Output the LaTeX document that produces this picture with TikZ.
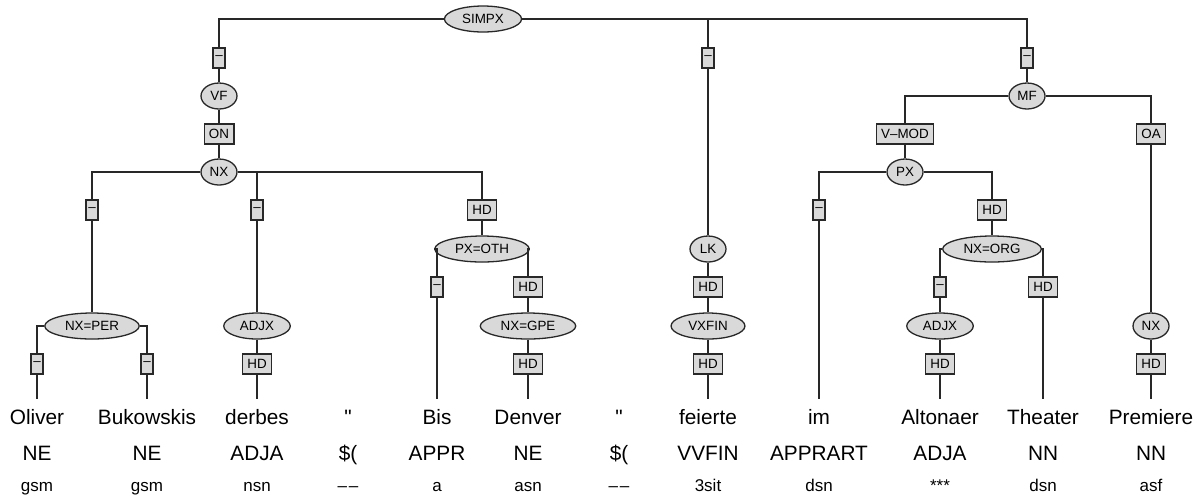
\documentclass[tikz,border=0pt]{standalone}
\usepackage{fontspec}
\setmainfont{Liberation Sans}
\usetikzlibrary{shapes.geometric}
\definecolor{nodegray}{RGB}{217,217,217}
\definecolor{linegray}{RGB}{40,40,40}

\begin{document}
\begin{tikzpicture}[x=0.5pt,y=-0.5pt,line width=0.65pt,draw=linegray,
    cat/.style={ellipse,draw,fill=nodegray,inner xsep=3.2pt,inner ysep=0pt,minimum height=13pt,font=\fontsize{6.7}{8}\selectfont},
    small/.style={inner xsep=0pt,minimum width=18pt},
    lab/.style={rectangle,draw,fill=nodegray,inner xsep=2.4pt,inner ysep=0pt,minimum height=10pt,font=\fontsize{6.7}{8}\selectfont},
    nolab/.style={lab,inner xsep=1.2pt},
    word/.style={anchor=base,font=\fontsize{10.4}{12}\selectfont,text height=8pt,text depth=2pt,inner ysep=4pt},
    tag/.style={anchor=base,font=\fontsize{10.4}{12}\selectfont},
    morph/.style={anchor=base,font=\fontsize{8.5}{10}\selectfont}]
    \useasboundingbox (0,0) rectangle (1202,500);
    \node[cat] (simpx) at (483,19) {SIMPX};
    \node[nolab] (l1) at (219,58) {--};
    \node[cat,small] (vf) at (219,96) {VF};
    \node[lab] (l2) at (219,134) {ON};
    \node[cat,small] (nx1) at (219,172) {NX};
    \node[nolab] (l3) at (92,210) {--};
    \node[cat] (nxper) at (92,326) {NX=PER};
    \node[nolab] (l4) at (37,364) {--};
    \node[nolab] (l5) at (147,364) {--};
    \node[nolab] (l6) at (257,210) {--};
    \node[cat] (adjx1) at (257,326) {ADJX};
    \node[lab] (l7) at (257,364) {HD};
    \node[lab] (l8) at (482,210) {HD};
    \node[cat] (pxoth) at (482,249) {PX=OTH};
    \node[nolab] (l9) at (437,287) {--};
    \node[lab] (l10) at (528,287) {HD};
    \node[cat] (nxgpe) at (528,326) {NX=GPE};
    \node[lab] (l11) at (528,364) {HD};
    \node[nolab] (l12) at (708,58) {--};
    \node[cat,small] (lk) at (708,249) {LK};
    \node[lab] (l13) at (708,287) {HD};
    \node[cat] (vxfin) at (708,326) {VXFIN};
    \node[lab] (l14) at (708,364) {HD};
    \node[nolab] (l15) at (1027,58) {--};
    \node[cat,small] (mf) at (1027,96) {MF};
    \node[lab] (l16) at (905,134) {V--MOD};
    \node[cat,small] (px) at (905,172) {PX};
    \node[nolab] (l17) at (819,210) {--};
    \node[lab] (l18) at (992,210) {HD};
    \node[cat] (nxorg) at (992,249) {NX=ORG};
    \node[nolab] (l19) at (940,287) {--};
    \node[cat] (adjx2) at (940,326) {ADJX};
    \node[lab] (l20) at (940,364) {HD};
    \node[lab] (l21) at (1043,287) {HD};
    \node[lab] (l22) at (1151,134) {OA};
    \node[cat,small] (nx2) at (1151,326) {NX};
    \node[lab] (l23) at (1151,364) {HD};
    \foreach \x/\w/\p/\m [count=\i] in {37/Oliver/NE/gsm, 147/Bukowskis/NE/gsm, 257/derbes/ADJA/nsn,
        348/\textquotedbl/\$(/\textendash\hspace{0.9pt}\textendash, 437/Bis/APPR/a, 528/Denver/NE/asn,
        619/\textquotedbl/\$(/\textendash\hspace{0.9pt}\textendash, 708/feierte/VVFIN/3sit, 819/im/APPRART/dsn,
        940/Altonaer/ADJA/***, 1043/Theater/NN/dsn, 1151/Premiere/NN/asf} {
        \node[word] (w\i) at (\x,424) {\w};
        \node[tag] (p\i) at (\x,460) {\p};
        \node[morph] (m\i) at (\x,491) {\m};
    }
    \draw (simpx) -| (l1);
    \draw (simpx) -| (l12);
    \draw (simpx) -| (l15);
    \draw (l1) -- (vf) -- (l2) -- (nx1);
    \draw (nx1) -| (l3);
    \draw (nx1) -| (l6);
    \draw (nx1) -| (l8);
    \draw (l3) -- (nxper);
    \draw (nxper) -| (l4) -- (w1);
    \draw (nxper) -| (l5) -- (w2);
    \draw (l6) -- (adjx1) -- (l7) -- (w3);
    \draw (l8) -- (pxoth);
    \draw (pxoth) -| (l9) -- (w5);
    \draw (pxoth) -| (l10) -- (nxgpe) -- (l11) -- (w6);
    \draw (l12) -- (lk) -- (l13) -- (vxfin) -- (l14) -- (w8);
    \draw (l15) -- (mf);
    \draw (mf) -| (l16) -- (px);
    \draw (mf) -| (l22) -- (nx2) -- (l23) -- (w12);
    \draw (px) -| (l17) -- (w9);
    \draw (px) -| (l18) -- (nxorg);
    \draw (nxorg) -| (l19) -- (adjx2) -- (l20) -- (w10);
    \draw (nxorg) -| (l21) -- (w11);
\end{tikzpicture}
\end{document}
